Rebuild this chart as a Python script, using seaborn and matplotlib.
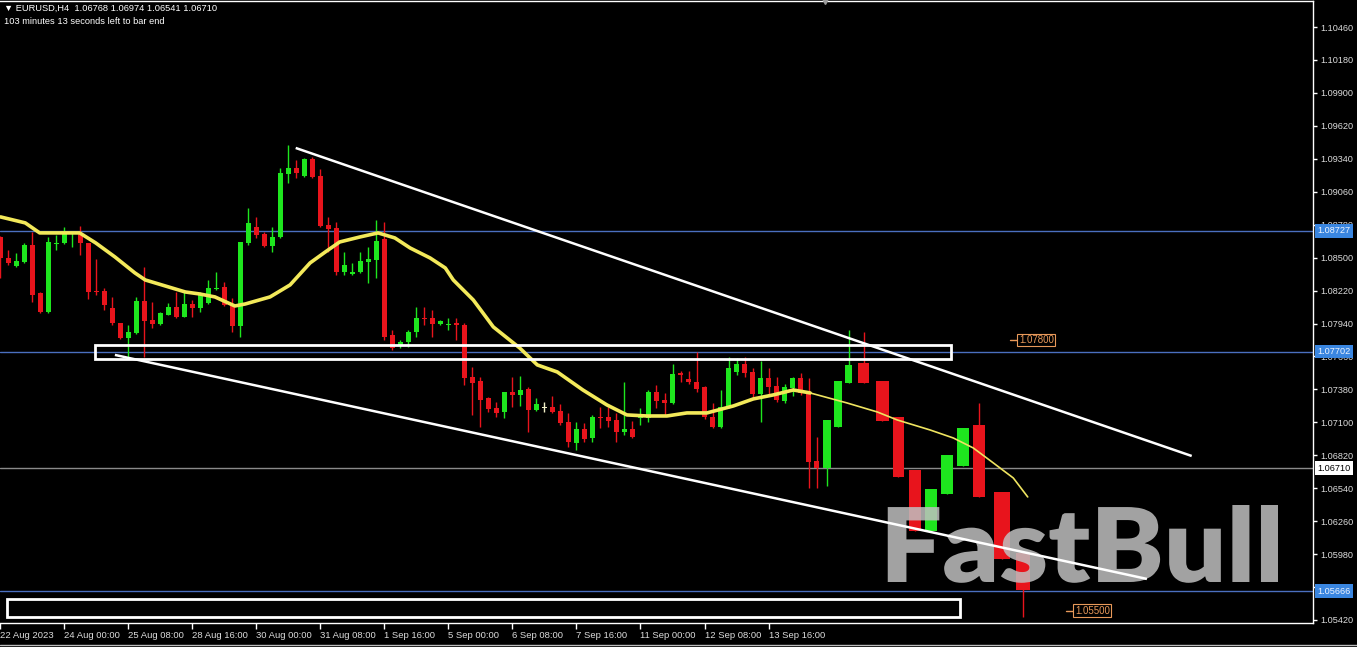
import numpy as np
import pandas as pd
import matplotlib
matplotlib.use("Agg")
import matplotlib.pyplot as plt
import matplotlib.transforms as mtransforms
import seaborn as sns
from matplotlib.lines import Line2D
from matplotlib.patches import Rectangle, PathPatch
from matplotlib.textpath import TextPath
from matplotlib.font_manager import FontProperties

# EURUSD H4 candles (slot = bar position on the time axis)
slot = list(range(103)) + [103.3, 104.7, 106.0, 107.9, 110.2, 112.2, 114.3,
                           116.3, 118.3, 120.3, 122.3, 125.2, 127.8]
opens = [1.08675, 1.08497, 1.08429, 1.08463, 1.08608, 1.08200, 1.08038, 1.08616, 1.08625, 1.08701,
         1.08710, 1.08625, 1.08217, 1.08217, 1.08072, 1.07945, 1.07817, 1.07860, 1.08132, 1.07970,
         1.07936, 1.08013, 1.08081, 1.07996, 1.08106, 1.08072, 1.08115, 1.08234, 1.08251, 1.08106,
         1.07919, 1.08625, 1.08761, 1.08701, 1.08599, 1.08675, 1.09211, 1.09262, 1.09194, 1.09339,
         1.09194, 1.08778, 1.08752, 1.08378, 1.08361, 1.08378, 1.08463, 1.08480, 1.08659, 1.07843,
         1.07758, 1.07783, 1.07868, 1.07987, 1.07987, 1.07936, 1.07928, 1.07945, 1.07928, 1.07486,
         1.07452, 1.07307, 1.07222, 1.07188, 1.07358, 1.07333, 1.07384, 1.07205, 1.07222, 1.07231,
         1.07197, 1.07103, 1.06925, 1.07044, 1.06967, 1.07146, 1.07146, 1.07120, 1.07018, 1.07044,
         1.07137, 1.07137, 1.07358, 1.07290, 1.07265, 1.07520, 1.07469, 1.07443, 1.07401, 1.07146,
         1.07061, 1.07231, 1.07528, 1.07596, 1.07528, 1.07341, 1.07477, 1.07409, 1.07282, 1.07392,
         1.07477, 1.07358, 1.06768,
         1.06712, 1.07061, 1.07435, 1.07605, 1.07452, 1.07146, 1.06695, 1.06177, 1.06491, 1.06729,
         1.07078, 1.06508, 1.05990]
highs = [1.08684, 1.08565, 1.08540, 1.08625, 1.08718, 1.08208, 1.08675, 1.08693, 1.08761, 1.08718,
         1.08769, 1.08625, 1.08489, 1.08242, 1.08166, 1.07945, 1.07928, 1.08166, 1.08421, 1.08123,
         1.08038, 1.08115, 1.08208, 1.08225, 1.08140, 1.08208, 1.08310, 1.08378, 1.08293, 1.08157,
         1.08633, 1.08922, 1.08846, 1.08718, 1.08761, 1.09262, 1.09458, 1.09330, 1.09347, 1.09356,
         1.09254, 1.08846, 1.08803, 1.08548, 1.08455, 1.08548, 1.08591, 1.08820, 1.08803, 1.07885,
         1.07800, 1.07885, 1.08081, 1.08081, 1.08055, 1.07970, 1.07987, 1.07987, 1.07945, 1.07571,
         1.07486, 1.07316, 1.07273, 1.07358, 1.07486, 1.07494, 1.07401, 1.07307, 1.07273, 1.07324,
         1.07256, 1.07180, 1.07103, 1.07095, 1.07163, 1.07231, 1.07231, 1.07180, 1.07443, 1.07112,
         1.07222, 1.07375, 1.07418, 1.07350, 1.07596, 1.07537, 1.07537, 1.07698, 1.07409, 1.07265,
         1.07375, 1.07656, 1.07647, 1.07656, 1.07562, 1.07622, 1.07562, 1.07486, 1.07426, 1.07486,
         1.07520, 1.07477, 1.06974,
         1.07120, 1.07452, 1.07885, 1.07868, 1.07452, 1.07146, 1.06695, 1.06534, 1.06823, 1.07052,
         1.07265, 1.06508, 1.05990]
lows = [1.08327, 1.08437, 1.08421, 1.08455, 1.08123, 1.08030, 1.08030, 1.08565, 1.08616, 1.08591,
        1.08523, 1.08149, 1.08183, 1.08055, 1.07928, 1.07809, 1.07656, 1.07851, 1.07656, 1.07902,
        1.07928, 1.08013, 1.07987, 1.07996, 1.07996, 1.08038, 1.08106, 1.08225, 1.08089, 1.07868,
        1.07826, 1.08608, 1.08667, 1.08591, 1.08548, 1.08667, 1.09135, 1.09177, 1.09186, 1.09177,
        1.08761, 1.08548, 1.08353, 1.08353, 1.08353, 1.08370, 1.08285, 1.08327, 1.07800, 1.07715,
        1.07732, 1.07741, 1.07826, 1.07928, 1.07826, 1.07928, 1.07885, 1.07800, 1.07418, 1.07163,
        1.07061, 1.07188, 1.07146, 1.07137, 1.07231, 1.07239, 1.07018, 1.07197, 1.07188, 1.07180,
        1.07078, 1.06891, 1.06865, 1.06933, 1.06933, 1.07052, 1.07061, 1.06933, 1.06993, 1.06967,
        1.07078, 1.07103, 1.07222, 1.07163, 1.07256, 1.07443, 1.07426, 1.07358, 1.07129, 1.07052,
        1.07052, 1.07222, 1.07503, 1.07486, 1.07316, 1.07103, 1.07333, 1.07273, 1.07265, 1.07324,
        1.07333, 1.06542, 1.06541,
        1.06559, 1.07061, 1.07435, 1.07435, 1.07112, 1.06636, 1.06177, 1.06177, 1.06491, 1.06729,
        1.06466, 1.05939, 1.05446]
closes = [1.08497, 1.08455, 1.08472, 1.08608, 1.08183, 1.08038, 1.08633, 1.08625, 1.08710, 1.08710,
          1.08625, 1.08208, 1.08208, 1.08098, 1.07945, 1.07817, 1.07868, 1.08132, 1.07962, 1.07936,
          1.08030, 1.08081, 1.07996, 1.08106, 1.08072, 1.08191, 1.08242, 1.08242, 1.08098, 1.07919,
          1.08633, 1.08795, 1.08693, 1.08599, 1.08675, 1.09220, 1.09262, 1.09220, 1.09339, 1.09186,
          1.08769, 1.08744, 1.08378, 1.08437, 1.08378, 1.08472, 1.08489, 1.08642, 1.07826, 1.07732,
          1.07783, 1.07868, 1.07987, 1.07979, 1.07936, 1.07962, 1.07936, 1.07928, 1.07477, 1.07435,
          1.07290, 1.07214, 1.07180, 1.07358, 1.07333, 1.07375, 1.07205, 1.07256, 1.07222, 1.07188,
          1.07095, 1.06933, 1.07044, 1.06959, 1.07146, 1.07137, 1.07112, 1.07018, 1.07044, 1.06976,
          1.07163, 1.07358, 1.07282, 1.07265, 1.07511, 1.07503, 1.07443, 1.07384, 1.07146, 1.07061,
          1.07231, 1.07562, 1.07596, 1.07520, 1.07341, 1.07477, 1.07401, 1.07290, 1.07401, 1.07477,
          1.07350, 1.06763, 1.06710,
          1.07120, 1.07452, 1.07588, 1.07435, 1.07112, 1.06636, 1.06177, 1.06534, 1.06823, 1.07052,
          1.06466, 1.05939, 1.05675]

# moving average (yellow)
ma_slot = [0.0, 3.1, 4.9, 7.4, 9.9, 11.9, 14.3, 16.8, 18.1, 20.6, 23.1, 24.9, 26.8, 29.3, 30.6,
           33.7, 36.2, 38.7, 40.6, 42.4, 44.9, 47.2, 49.3, 51.2, 53.7, 55.6, 56.6, 59.1, 61.6,
           64.9, 67.1, 69.6, 72.8, 75.8, 78.3, 80.8, 83.3, 85.8, 88.3, 91.6, 94.1, 96.6, 99.1,
           101.2, 105.8, 109.6, 112.1, 116.2, 119.1, 121.6, 124.1, 126.6, 128.4]
ma_price = [1.08846, 1.08795, 1.08710, 1.08710, 1.08710, 1.08625, 1.08506, 1.08370, 1.08310,
            1.08259, 1.08208, 1.08191, 1.08166, 1.08089, 1.08106, 1.08166, 1.08268, 1.08455,
            1.08548, 1.08633, 1.08675, 1.08710, 1.08667, 1.08582, 1.08497, 1.08412, 1.08310,
            1.08140, 1.07911, 1.07732, 1.07588, 1.07528, 1.07375, 1.07248, 1.07163, 1.07154,
            1.07154, 1.07180, 1.07180, 1.07239, 1.07299, 1.07333, 1.07375, 1.07350, 1.07265,
            1.07188, 1.07120, 1.07035, 1.06967, 1.06882, 1.06755, 1.06627, 1.06466]

# drawn objects: (slot, price) end points
upper_trend = [(36.9, 1.09432), (148.9, 1.06814)]
lower_trend = [(14.3, 1.07673), (143.3, 1.05769)]
zone_boxes = [(11.8, 118.8, 1.07639, 1.07758), (0.8, 119.9, 1.05446, 1.05599)]
blue_levels = [1.08727, 1.07702, 1.05666]
bid_level = 1.06710
marks = [(127.3, 1.07800), (134.3, 1.05500)]

xtick_slots = [0, 8, 16, 24, 32, 40, 48, 56, 64, 72, 80, 88, 96]
xtick_labels = ["22 Aug 2023", "24 Aug 00:00", "25 Aug 08:00", "28 Aug 16:00", "30 Aug 00:00",
                "31 Aug 08:00", "1 Sep 16:00", "5 Sep 00:00", "6 Sep 08:00", "7 Sep 16:00",
                "11 Sep 00:00", "12 Sep 08:00", "13 Sep 16:00"]
ytick_prices = [1.05420, 1.05700, 1.05980, 1.06260, 1.06540, 1.06820, 1.07100, 1.07380, 1.07660,
                1.07940, 1.08220, 1.08500, 1.08780, 1.09060, 1.09340, 1.09620, 1.09900, 1.10180,
                1.10460]

sns.set_theme(style="dark", rc={"axes.facecolor": "black", "figure.facecolor": "black",
                                "savefig.facecolor": "black"})
plt.rcParams['font.family'] = ['Liberation Sans', 'DejaVu Sans']

W, H = 1357, 647
fig = plt.figure(figsize=(W / 100, H / 100), dpi=100)
ax = fig.add_axes([0, 24 / H, 1313 / W, 622 / H])
ax.set_xlim(-0.06, 164.06)
ax.set_ylim(1.053945, 1.10681)

df = pd.DataFrame({"slot": slot, "open": opens, "high": highs, "low": lows, "close": closes})
gaps = np.diff(df.slot.values, prepend=df.slot.values[0] - 1)
df["width"] = np.where(gaps > 1.05, 0.7 * gaps, 0.65)
df["color"] = np.where(df.close > df.open, "#1ee61e",
                       np.where(df.close < df.open, "#e8141c", "#f2f0c8"))
body_lo = df[["open", "close"]].min(axis=1)
body_h = (df.open - df.close).abs().clip(lower=0.00009)

ax.vlines(df.slot, df.low, df.high, colors=df.color, lw=1, zorder=3)
ax.bar(df.slot, body_h, bottom=body_lo, width=df.width, color=df.color, linewidth=0, zorder=3)

for lvl in blue_levels:
    ax.axhline(lvl, color="#4a6fbf", lw=1, zorder=1)
ax.axhline(bid_level, color="#8a8a8a", lw=1, zorder=1)

ma = pd.DataFrame({"slot": ma_slot, "price": ma_price})
sns.lineplot(data=ma[ma.slot >= 101.2], x="slot", y="price", ax=ax, color="#efe460",
             lw=1.2, estimator=None, zorder=4)
sns.lineplot(data=ma[ma.slot <= 101.2], x="slot", y="price", ax=ax, color="#f3e95a",
             lw=2.6, estimator=None, zorder=4)

# watermark, fitted into its box (pixels: left 880, right 1278, baseline 582, cap 77 high)
tp = TextPath((0, 0), "FastBull", size=1, prop=FontProperties(family="Lato", weight="heavy"))
verts = tp.vertices
x_min, x_max = verts[:, 0].min(), verts[:, 0].max()
y_top = verts[:, 1].max()
sx = 398 / (x_max - x_min)
sy = 77 / y_top
wm_tf = mtransforms.Affine2D().translate(-x_min, 0).scale(sx, sy).translate(880, H - 582)
ax.add_patch(PathPatch(tp, transform=wm_tf, fc="#c0c0c0", ec="none", alpha=0.85, zorder=5))

for (x0, y0), (x1, y1) in [upper_trend, lower_trend]:
    ax.plot([x0, x1], [y0, y1], color="white", lw=1.8, zorder=6, solid_capstyle="butt")
for x0, x1, y0, y1 in zone_boxes:
    ax.add_patch(Rectangle((x0, y0), x1 - x0, y1 - y0, fill=False, ec="white", lw=2, zorder=6))

for mx, mp in marks:
    ax.plot([mx - 1.1, mx - 0.1], [mp, mp], color="#e8995a", lw=1, zorder=6)
    ax.text(mx, mp, f"{mp:.5f}", color="#e8995a", fontsize=7, va="center", ha="left", zorder=6,
            bbox=dict(boxstyle="square,pad=0.15", fc="black", ec="#e8995a", lw=0.8))

# small chart-shift marker on the top border
ax.plot([103.1], [1.10681], marker="v", markersize=5, color="#9a9a9a", clip_on=False, zorder=7)

# axes styling
ax.grid(False)
for side in ["top", "right", "bottom"]:
    ax.spines[side].set_color("white")
    ax.spines[side].set_linewidth(1)
ax.spines["left"].set_visible(False)
ax.set_xlabel("")
ax.set_ylabel("")

ax.yaxis.tick_right()
ax.set_yticks(ytick_prices)
ax.set_yticklabels([f"{p:.5f}" for p in ytick_prices])
ax.set_xticks(xtick_slots)
ax.set_xticklabels(xtick_labels)
for lab in ax.get_xticklabels():
    lab.set_ha("left")
ax.tick_params(axis="y", which="both", right=True, left=False, length=3, width=1,
               color="white", labelcolor="#dcdcdc", labelsize=6.6, pad=2)
ax.tick_params(axis="x", which="both", bottom=True, length=4, width=1,
               color="white", labelcolor="#dcdcdc", labelsize=6.8, pad=2)

# price tags on the right scale
trans = mtransforms.blended_transform_factory(ax.transAxes, ax.transData)
for lvl in blue_levels:
    ax.text(1.0035, lvl, f"{lvl:.5f}", transform=trans, fontsize=6.6, color="#eef4ff",
            va="center", ha="left", clip_on=False, zorder=7,
            bbox=dict(boxstyle="square,pad=0.25", fc="#3a86e0", ec="none"))
ax.text(1.0035, bid_level, f"{bid_level:.5f}", transform=trans, fontsize=6.6, color="black",
        va="center", ha="left", clip_on=False, zorder=7,
        bbox=dict(boxstyle="square,pad=0.25", fc="white", ec="none"))

# header
fig.text(4 / W, 1 - 8 / H, "\u25bc EURUSD,H4  1.06768 1.06974 1.06541 1.06710",
         color="white", fontsize=6.7, va="center", ha="left")
fig.text(4 / W, 1 - 21 / H, "103 minutes 13 seconds left to bar end",
         color="white", fontsize=6.7, va="center", ha="left")
fig.add_artist(Line2D([0, 1], [2 / H, 2 / H], color="#bdbdbd", lw=1))

fig.savefig("out.png", dpi=100, facecolor="black")
